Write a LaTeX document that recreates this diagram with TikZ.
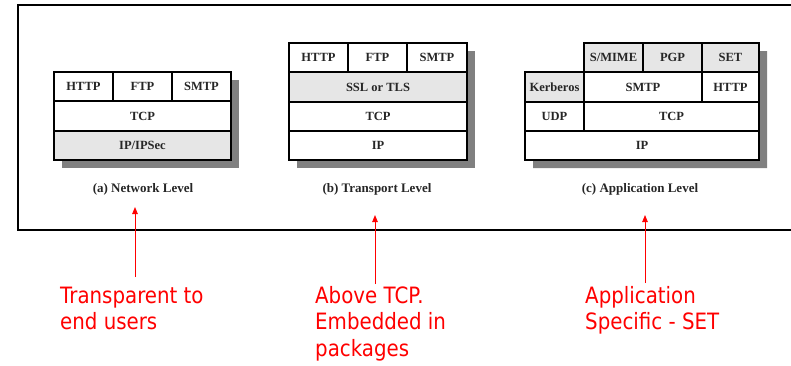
\documentclass[tikz,border=0pt]{standalone}
\usepackage{fontspec}
\setmainfont{Liberation Serif}
\newfontfamily\notefont[FakeStretch=0.88]{DejaVu Sans}
\usetikzlibrary{arrows.meta}
\definecolor{cellgray}{HTML}{E6E6E6}
\definecolor{shadowgray}{HTML}{808080}
\definecolor{notered}{HTML}{FF0000}
\tikzset{
  cell/.style={draw=black, line width=1.7pt, inner sep=0pt, outer sep=0pt,
    font=\bfseries\fontsize{12.5}{14}\selectfont, text=black!85},
  caption/.style={anchor=base, inner sep=0pt, font=\bfseries\fontsize{13}{15}\selectfont, text=black!85},
  note/.style={anchor=base west, inner sep=0pt, text=notered,
    font=\notefont\fontsize{22.5}{26.5}\selectfont},
  notearrow/.style={draw=notered, line width=0.9pt, -{Triangle[length=7pt,width=5.5pt]}},
  shadow/.style={fill=shadowgray},
  frame/.style={draw=black, line width=2pt}
}
\newcommand\mkcell[7][white]{%
  \node[cell, fill=#1, minimum width={(#5)-(#3)}, minimum height={(#6)-(#4)}]
    (#2) at ({((#3)+(#5))/2},{((#4)+(#6))/2}) {#7};}
\begin{document}
\begin{tikzpicture}[x=1pt, y=-1pt]
\useasboundingbox (0,0) rectangle (791,365);
% outer frame (runs off the right edge)
\draw[frame] (800,5) -- (18,5) -- (18,229.5) -- (800,229.5);

% ---------- (a) Network level ----------
\fill[shadow] (62,80) rectangle (239,168);
\mkcell{aHTTP}{54}{72}{113}{101}{HTTP}
\mkcell{aFTP}{113}{72}{172}{101}{FTP}
\mkcell{aSMTP}{172}{72}{231}{101}{SMTP}
\mkcell{aTCP}{54}{101}{231}{131}{TCP}
\mkcell[cellgray]{aIP}{54}{131}{231}{160}{IP/IPSec}
\node[caption] (capa) at (143,192.5) {(a) Network Level};

% ---------- (b) Transport level ----------
\fill[shadow] (297,51) rectangle (475,168);
\mkcell{bHTTP}{289}{43}{348}{72}{HTTP}
\mkcell{bFTP}{348}{43}{407}{72}{FTP}
\mkcell{bSMTP}{407}{43}{467}{72}{SMTP}
\mkcell[cellgray]{bSSL}{289}{72}{467}{102}{SSL or TLS}
\mkcell{bTCP}{289}{102}{467}{131}{TCP}
\mkcell{bIP}{289}{131}{467}{160}{IP}
\node[caption] (capb) at (377,192.5) {(b) Transport Level};

% ---------- (c) Application level ----------
\fill[shadow] (592,51) -- (767,51) -- (767,168) -- (533,168) -- (533,80) -- (592,80) -- cycle;
\mkcell[cellgray]{cSMIME}{584}{43}{643}{72}{S/MIME}
\mkcell[cellgray]{cPGP}{643}{43}{702}{72}{PGP}
\mkcell[cellgray]{cSET}{702}{43}{759}{72}{SET}
\mkcell[cellgray]{cKerb}{525}{72}{584}{102}{Kerberos}
\mkcell{cSMTP}{584}{72}{702}{102}{SMTP}
\mkcell{cHTTP}{702}{72}{759}{102}{HTTP}
\mkcell{cUDP}{525}{102}{584}{131}{UDP}
\mkcell{cTCP}{584}{102}{759}{131}{TCP}
\mkcell{cIP}{525}{131}{759}{160}{IP}
\node[caption] (capc) at (640,192.5) {(c) Application Level};

% ---------- red notes ----------
\node[note] (n1a) at (60,303) {Transparent to};
\node[note] (n1b) at (60,329.5) {end users};
\node[note] (n2a) at (315,303) {Above TCP.};
\node[note] (n2b) at (315,329.5) {Embedded in};
\node[note] (n2c) at (315,356) {packages};
\node[note] (n3a) at (585,303) {Application};
\node[note] (n3b) at (585,329.5) {Specific - SET};

\coordinate (t1) at (135,207);
\coordinate (s1) at (135,277);
\coordinate (t2) at (375,215);
\coordinate (s2) at (375,284);
\coordinate (t3) at (645,215);
\coordinate (s3) at (645,283);
\draw[notearrow] (s1) -- (t1);
\draw[notearrow] (s2) -- (t2);
\draw[notearrow] (s3) -- (t3);
\end{tikzpicture}
\end{document}
